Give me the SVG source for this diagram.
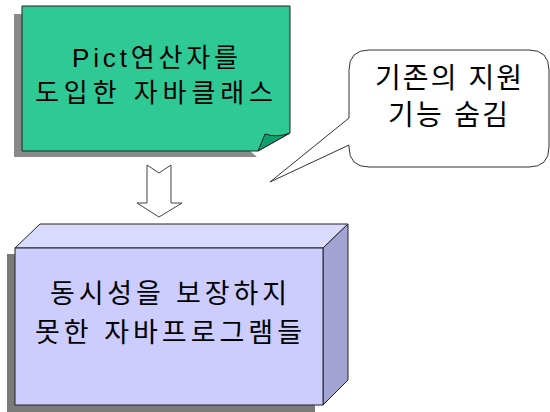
<svg xmlns="http://www.w3.org/2000/svg" width="550" height="412" viewBox="0 0 550 412">
<style>
text{font-family:"Liberation Sans","Noto Sans CJK KR",sans-serif;fill:#000}
.ln{stroke:#222;stroke-width:1}
</style>
<rect width="550" height="412" fill="#fff"/>
<g id="note">
<path d="M14 14 H22 V151 H250 L257 157 H14 Z" fill="#8a8a8a"/>
<path d="M22 6 H290 V133 L258 151 H22 Z" fill="#2FC996" class="ln"/>
<path d="M258 151 L265 134 Q277 138 290 133 Z" fill="#0E9E6E" class="ln"/>
<text x="72" y="67" font-size="26" textLength="166" lengthAdjust="spacing">Pict연산자를</text>
<text x="35" y="102" font-size="26" textLength="238" lengthAdjust="spacing">도입한 자바클래스</text>
</g>
<g id="callout">
<path d="M369 50 H529 Q549 50 549 70 V147 Q549 167 529 167 H369 Q349 167 349 147 V145 L270 182 L349 118 V70 Q349 50 369 50 Z" fill="#fff" stroke="#333" stroke-width="1"/>
<text x="375" y="88" font-size="28" textLength="147" lengthAdjust="spacing">기존의 지원</text>
<text x="388" y="125" font-size="28" textLength="120" lengthAdjust="spacing">기능 숨김</text>
</g>
<g id="connectors">
<path d="M147 165 L159 173 L171 165 V203 H182 L159 217 L137 203 H147 Z" fill="#fff" stroke="#444" stroke-width="1"/>
</g>
<g id="box">
<rect x="7" y="254" width="308" height="158" fill="#7a7a7a"/>
<path d="M15 248 L40 224 H348 L323 248 Z" fill="#DADAFF" class="ln"/>
<path d="M323 248 L348 224 V380 L323 405 Z" fill="#A4A4D4" class="ln"/>
<rect x="15" y="248" width="308" height="157" fill="#CCCCFF" class="ln"/>
<text x="50" y="303" font-size="27" textLength="237" lengthAdjust="spacing">동시성을 보장하지</text>
<text x="35" y="342" font-size="27" textLength="267" lengthAdjust="spacing">못한 자바프로그램들</text>
</g>
</svg>
